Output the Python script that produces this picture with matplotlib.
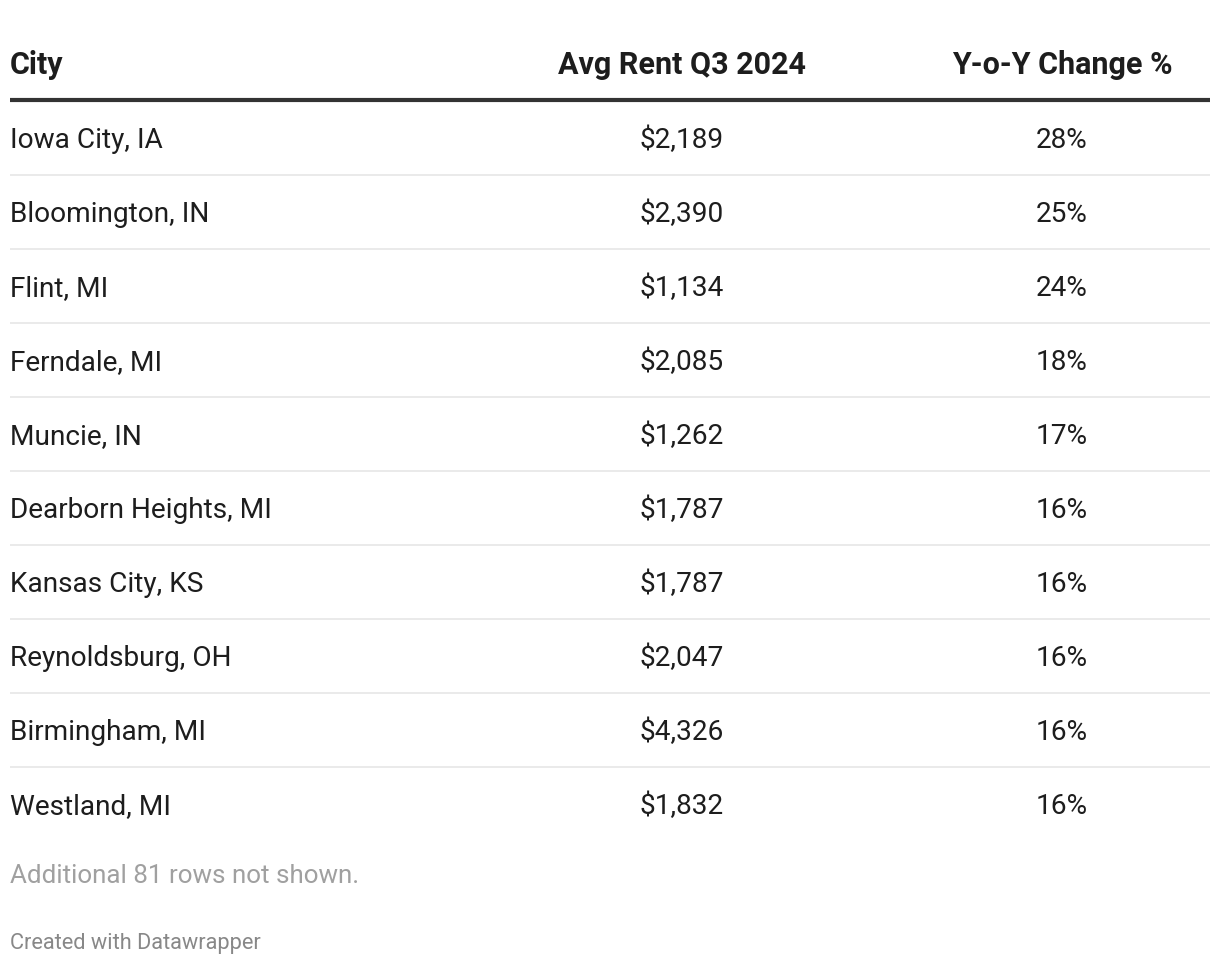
import matplotlib
matplotlib.use("Agg")
import matplotlib.pyplot as plt

cities = ["Iowa City, IA", "Bloomington, IN", "Flint, MI", "Ferndale, MI", "Muncie, IN",
          "Dearborn Heights, MI", "Kansas City, KS", "Reynoldsburg, OH", "Birmingham, MI", "Westland, MI"]
avg_rent = [2189, 2390, 1134, 2085, 1262, 1787, 1787, 2047, 4326, 1832]
yoy_change = [28, 25, 24, 18, 17, 16, 16, 16, 16, 16]
headers = ["City", "Avg Rent Q3 2024", "Y-o-Y Change %"]
note = "Additional 81 rows not shown."
credit = "Created with Datawrapper"

W, H = 1220, 966
fig = plt.figure(figsize=(W / 100, H / 100), dpi=100)
ax = fig.add_axes([0, 0, 1, 1])
ax.set_xlim(0, W)
ax.set_ylim(H, 0)
ax.axis("off")

FONT = "Roboto"
x_city, x_rent, x_chg = 10, 682, 1062
left, right = 10, 1210
row_h = 74
first_base = 148
HFS = 22
RFS = 20.2

# header
ax.text(x_city, 74, headers[0], ha="left", va="baseline", fontsize=HFS, fontweight="bold",
        color="#1d1d1d", family=FONT)
ax.text(x_rent, 74, headers[1], ha="center", va="baseline", fontsize=HFS, fontweight="bold",
        color="#1d1d1d", family=FONT)
ax.text(x_chg, 74, headers[2], ha="center", va="baseline", fontsize=HFS, fontweight="bold",
        color="#1d1d1d", family=FONT)
ax.plot([left, right], [100, 100], color="#333333", lw=3.0, solid_capstyle="butt")

for i, (c, r, y) in enumerate(zip(cities, avg_rent, yoy_change)):
    base = first_base + i * row_h
    ax.text(x_city, base, c, ha="left", va="baseline", fontsize=RFS, color="#1d1d1d", family=FONT)
    ax.text(x_rent, base, f"${r:,}", ha="center", va="baseline", fontsize=RFS, color="#1d1d1d", family=FONT)
    ax.text(x_chg, base, f"{y}%", ha="center", va="baseline", fontsize=RFS, color="#1d1d1d", family=FONT)
    if i < len(cities) - 1:
        sep = base + 27
        ax.plot([left, right], [sep, sep], color="#e6e6e6", lw=1.2, solid_capstyle="butt")

ax.text(x_city, 883, note, ha="left", va="baseline", fontsize=18.7, color="#a0a0a0", family=FONT)
ax.text(x_city, 949, credit, ha="left", va="baseline", fontsize=15.7, color="#888888", family=FONT)

fig.savefig("out.png", dpi=100, facecolor="white")
